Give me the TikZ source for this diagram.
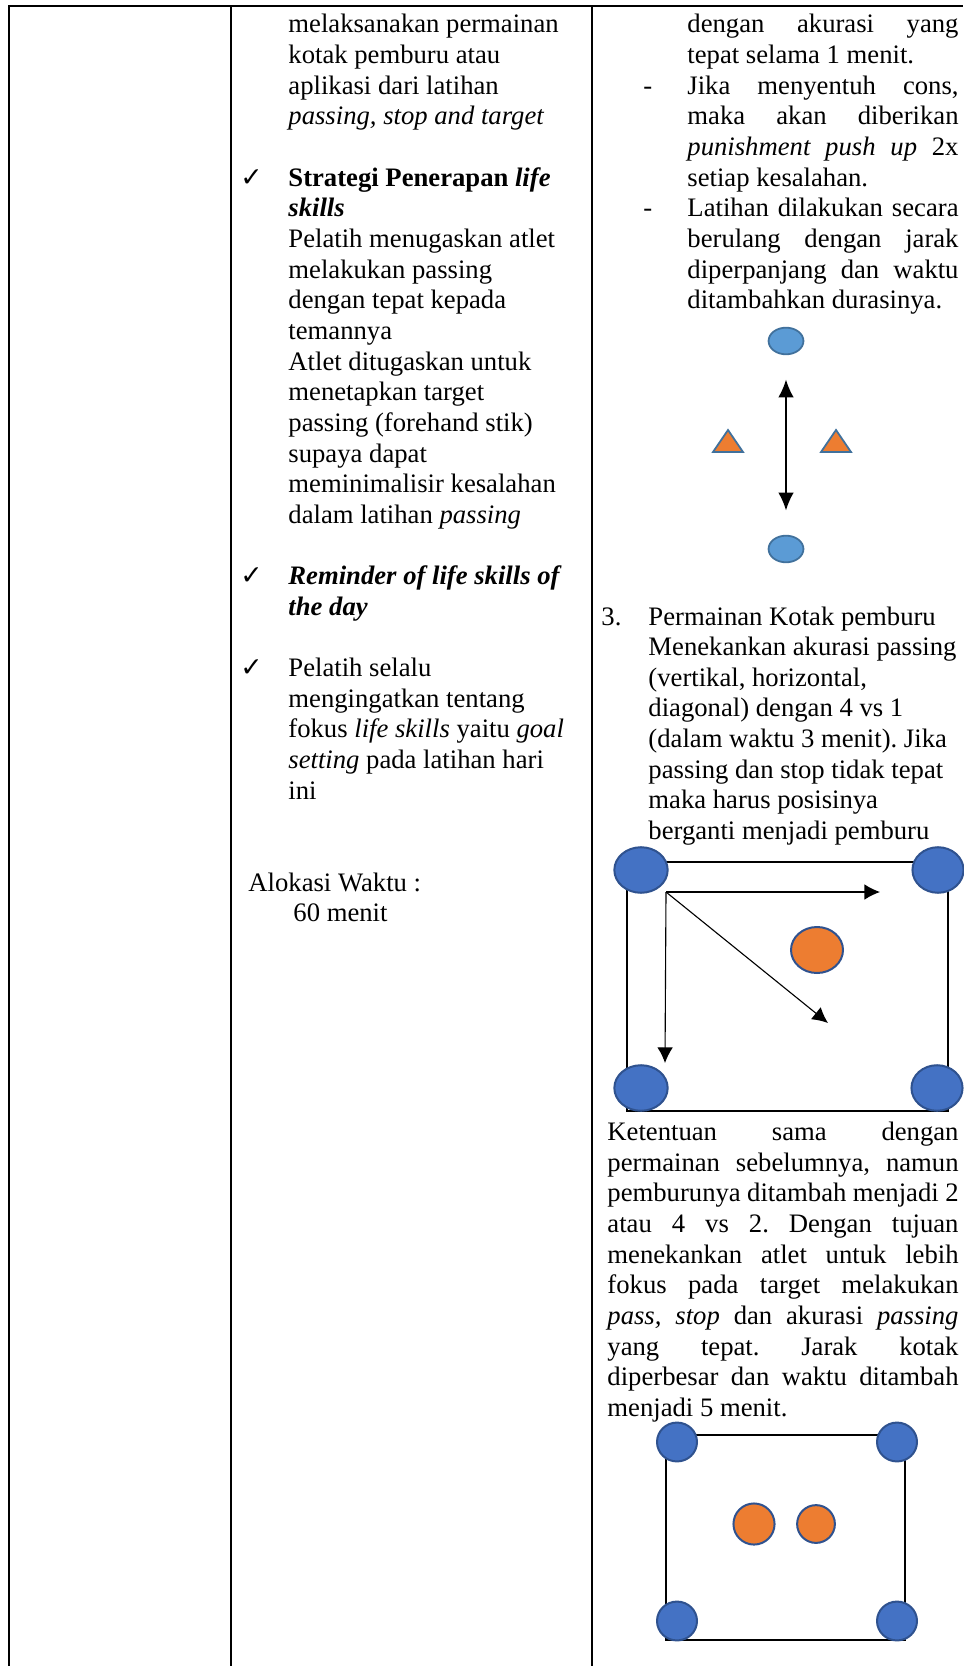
\documentclass[tikz,border=0pt]{standalone}
\usepackage{fontspec}
\setmainfont{Liberation Serif}
\newfontfamily\tickfont{DejaVu Sans}
\usetikzlibrary{arrows.meta,shapes.geometric}
\frenchspacing

\definecolor{conefill}{HTML}{ED7D31}
\definecolor{lightball}{HTML}{5B9BD5}
\definecolor{lightedge}{HTML}{41719C}
\definecolor{playerfill}{HTML}{4472C4}
\definecolor{playeredge}{HTML}{2F528F}

\begin{document}
\begin{tikzpicture}[>={Latex[length=7pt,width=7pt]}, x=0.45pt, y=-0.45pt,
	font=\fontsize{12}{13.8}\selectfont,
	line/.style={anchor=base west, inner sep=0pt},
	tick/.style={anchor=base west, inner sep=0pt, font=\tickfont\fontsize{12}{14}\selectfont},
	grid/.style={line width=0.9pt},
	field/.style={line width=1.3pt},
	ball/.style={ellipse, draw=lightedge, fill=lightball, line width=0.8pt, inner sep=0pt, minimum width=15.7pt, minimum height=12pt},
	cone/.style={draw=lightedge, fill=conefill, line width=0.8pt},
	player/.style={ellipse, draw=playeredge, fill=playerfill, line width=0.9pt, inner sep=0pt},
	chaser/.style={ellipse, draw=playeredge, fill=conefill, line width=0.9pt, inner sep=0pt},
	pass/.style={->, line width=0.5pt}]
	\useasboundingbox (0,0) rectangle (963,1666);
	%\draw [help lines, step=50] (0,0) grid (963,1666);

	% table lines
	\draw [grid] (9,1666) -- (9,6) -- (963,6);
	\draw [grid] (231,6) -- (231,1666);
	\draw [grid] (592,6) -- (592,1666);

	% middle column
	\foreach \n/\txt in {0/melaksanakan permainan, 1/kotak pemburu atau, 2/aplikasi dari latihan,
		3/{\textit{passing, stop and target}},
		5/{\textbf{Strategi Penerapan \textit{life}}}, 6/{\textbf{\textit{skills}}},
		7/Pelatih menugaskan atlet, 8/melakukan passing, 9/dengan tepat kepada, 10/temannya,
		11/Atlet ditugaskan untuk, 12/menetapkan target, 13/passing (forehand stik),
		14/supaya dapat, 15/meminimalisir kesalahan, 16/{dalam latihan \textit{passing}},
		18/{\textbf{\textit{Reminder of life skills of}}}, 19/{\textbf{\textit{the day}}},
		21/Pelatih selalu, 22/mengingatkan tentang, 23/{fokus \textit{life skills} yaitu \textit{goal}},
		24/{\textit{setting} pada latihan hari}, 25/ini}
		\node [line] (mid\n) at (288, 33+30.65*\n) {\txt};
	\node [tick] (tick1) at (240, 33+30.65*5) {✓};
	\node [tick] (tick2) at (240, 33+30.65*18) {✓};
	\node [tick] (tick3) at (240, 33+30.65*21) {✓};
	\node [line] (alokasi) at (248, 33+30.65*28) {Alokasi Waktu :};
	\node [line] (menit) at (293, 33+30.65*29) {60 menit};

	% right column, first rules
	\foreach \n/\txt in {0/{\makebox[122pt][s]{dengan akurasi yang}}, 1/tepat selama 1 menit.,
		2/{\makebox[122pt][s]{Jika menyentuh cons,}}, 3/{\makebox[122pt][s]{maka akan diberikan}},
		4/{\makebox[122pt][s]{\textit{punishment push up} 2x}}, 5/setiap kesalahan.,
		6/{\makebox[122pt][s]{Latihan dilakukan secara}}, 7/{\makebox[122pt][s]{berulang dengan jarak}},
		8/{\makebox[122pt][s]{diperpanjang dan waktu}}, 9/ditambahkan durasinya.}
		\node [line] (rule\n) at (687, 33+30.65*\n) {\txt};
	\node [line] (dash1) at (643, 33+30.65*2) {-};
	\node [line] (dash2) at (643, 33+30.65*6) {-};

	% drill 1
	\node [ball] (ball1) at (786,341) {};
	\node [ball] (ball2) at (786,549) {};
	\draw [{Latex[length=8pt,width=7pt]}-{Latex[length=8pt,width=7pt]}, line width=0.6pt, shorten <=11pt, shorten >=11pt] (ball1) -- (ball2);
	\draw [cone] (713,452) -- (728,430) -- (743,452) -- cycle;
	\draw [cone] (821,452) -- (836,430) -- (851,452) -- cycle;

	% game 3
	\node [line] (num3) at (601, 625) {3.};
	\foreach \n/\txt in {0/Permainan Kotak pemburu, 1/Menekankan akurasi passing,
		2/{(vertikal, horizontal,}, 3/diagonal) dengan 4 vs 1, 4/(dalam waktu 3 menit). Jika,
		5/passing dan stop tidak tepat, 6/maka harus posisinya, 7/berganti menjadi pemburu}
		\node [line] (game\n) at (648, 625+30.65*\n) {\txt};

	% box 4 vs 1
	\draw [field] (627,862) rectangle (948,1111);
	\node [player, minimum width=24pt, minimum height=20.5pt] (pa) at (641,870) {};
	\node [player, minimum width=23pt, minimum height=20.5pt] (pb) at (938,870) {};
	\node [player, minimum width=24pt, minimum height=20.5pt] (pc) at (641,1088) {};
	\node [player, minimum width=23pt, minimum height=20.5pt] (pd) at (937,1088) {};
	\node [chaser, minimum width=23.4pt, minimum height=20.7pt] (hunter) at (817,950) {};
	\coordinate (from) at (666,892);
	\coordinate (toright) at (880,892);
	\coordinate (todiag) at (828,1023);
	\coordinate (todown) at (665,1063);
	\draw [pass] (from) -- (toright);
	\draw [pass] (from) -- (todiag);
	\draw [pass] (from) -- (todown);

	% rules for 4 vs 2
	\foreach \n/\txt in {0/{\makebox[158pt][s]{Ketentuan sama dengan}},
		1/{\makebox[158pt][s]{permainan sebelumnya, namun}},
		2/{\makebox[158pt][s]{pemburunya ditambah menjadi 2}},
		3/{\makebox[158pt][s]{atau 4 vs 2. Dengan tujuan}},
		4/{\makebox[158pt][s]{menekankan atlet untuk lebih}},
		5/{\makebox[158pt][s]{fokus pada target melakukan}},
		6/{\makebox[158pt][s]{\textit{pass, stop} dan akurasi \textit{passing}}},
		7/{\makebox[158pt][s]{yang tepat. Jarak kotak}},
		8/{\makebox[158pt][s]{diperbesar dan waktu ditambah}}, 9/menjadi 5 menit.}
		\node [line] (rule4v2\n) at (607, 1140.6+30.65*\n) {\txt};

	% box 4 vs 2
	\draw [field] (666,1435) rectangle (905,1640);
	\node [player, minimum width=18pt, minimum height=17.5pt] (qa) at (677,1442) {};
	\node [player, minimum width=18pt, minimum height=17.5pt] (qb) at (897,1442) {};
	\node [player, minimum width=18pt, minimum height=17.5pt] (qc) at (677,1621) {};
	\node [player, minimum width=18pt, minimum height=17.5pt] (qd) at (897,1621) {};
	\node [chaser, minimum width=18.5pt, minimum height=18.5pt] (hunter1) at (754,1524) {};
	\node [chaser, minimum width=17pt, minimum height=17pt] (hunter2) at (816,1524) {};
\end{tikzpicture}
\end{document}
